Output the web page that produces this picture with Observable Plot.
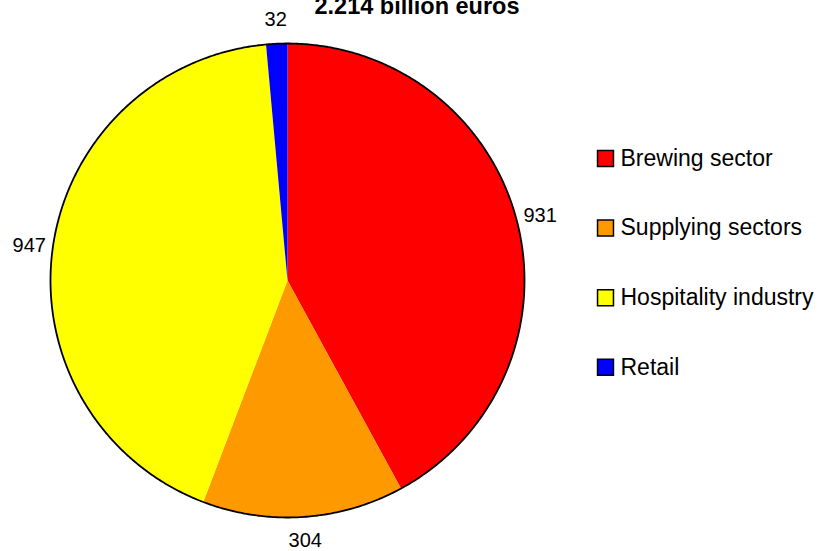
<!DOCTYPE html>
<html>
<head>
<meta charset="utf-8">
<script src="https://cdn.jsdelivr.net/npm/d3@7"></script>
<script src="https://cdn.jsdelivr.net/npm/@observablehq/plot@0.6"></script>
<style>
  html, body { margin: 0; padding: 0; background: #fff; }
  #chart { width: 822px; height: 551px; }
  svg { font-family: Arial, "Liberation Sans", sans-serif; }
</style>
</head>
<body>
<div id="chart"></div>
<script>
const title = "2.214 billion euros";
const categories = ["Brewing sector", "Supplying sectors", "Hospitality industry", "Retail"];
const values = [931, 304, 947, 32];
const colors = ["#FF0000", "#FF9900", "#FFFF00", "#0000FF"];

const W = 822, H = 551;
const cx = 287, cy = 280, R = 237;

const rows = categories.map((c, i) => ({key: c, value: values[i]}));
const arcs = d3.pie().sort(null).value(d => d.value)(rows);

// slice polygons in unit-circle coordinates (angle clockwise from top)
const slicePts = [];
for (const a of arcs) {
  slicePts.push({key: a.data.key, x: 0, y: 0});
  const n = Math.max(2, Math.ceil((a.endAngle - a.startAngle) / 0.01));
  for (let k = 0; k <= n; k++) {
    const t = a.startAngle + (a.endAngle - a.startAngle) * k / n;
    slicePts.push({key: a.data.key, x: Math.sin(t), y: Math.cos(t)});
  }
}
const outline = [];
for (let k = 0; k <= 720; k++) {
  const t = 2 * Math.PI * k / 720;
  outline.push({x: Math.sin(t), y: Math.cos(t)});
}
const labelR = 1.1;
const labels = arcs.map(a => {
  const m = (a.startAngle + a.endAngle) / 2;
  return {text: String(a.data.value), x: labelR * Math.sin(m), y: labelR * Math.cos(m)};
});

// legend placed in data units
const legTop = (cy - 158) / R, legStep = 69.6 / R;
const legend = categories.map((c, i) => ({key: c, y: legTop - i * legStep}));
const legSqX = (605 - cx) / R, legTxtX = (620 - cx) / R;

const chart = Plot.plot({
  width: W, height: H,
  margin: 0,
  x: {domain: [-1, 1], range: [cx - R, cx + R], axis: null},
  y: {domain: [-1, 1], range: [cy + R, cy - R], axis: null},
  color: {domain: categories, range: colors},
  style: {fontFamily: "Arial, 'Liberation Sans', sans-serif", background: "#fff"},
  marks: [
    Plot.line(slicePts, {x: "x", y: "y", z: "key", fill: "key", stroke: "none", curve: "linear"}),
    Plot.line(outline, {x: "x", y: "y", stroke: "#000", strokeWidth: 1.8}),
    Plot.text(labels, {x: "x", y: "y", text: "text", fontSize: 20, fill: "#000", textAnchor: "middle"}),
    Plot.dot(legend, {x: () => legSqX, y: "y", symbol: "square", r: 9, fill: "key", stroke: "#000", strokeWidth: 1.5}),
    Plot.text(legend, {x: () => legTxtX, y: "y", text: "key", fontSize: 23, textAnchor: "start", fill: "#000"}),
    Plot.text([title], {x: () => (416.5 - cx) / R, y: () => (cy - 5.5) / R, text: d => d, fontSize: 23.5, fontWeight: "bold", fill: "#000"})
  ]
});
document.getElementById("chart").appendChild(chart);
</script>
</body>
</html>
